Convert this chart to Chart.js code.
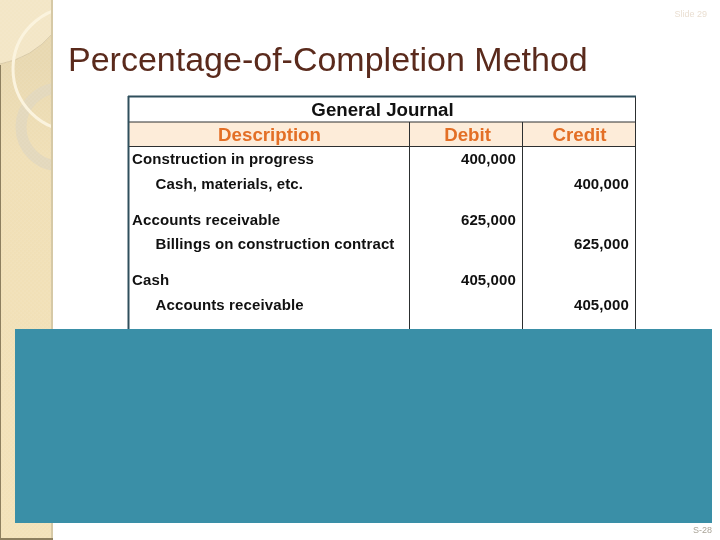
<!DOCTYPE html>
<html><head><meta charset="utf-8">
<style>html,body{margin:0;padding:0;background:#fff}#w{width:720px;height:540px;position:relative}</style>
<script src="https://cdn.jsdelivr.net/npm/chart.js@4/dist/chart.umd.js"></script>
</head><body><div id="w"><canvas id="c" width="720" height="540"></canvas></div>
<script>
const slideTitle = "Percentage-of-Completion Method";
const slideTag = "Slide 29";
const pageTag = "S-28";
const tableTitle = "General Journal";
const columnHeads = ["Description", "Debit", "Credit"];
const descriptions = ["Construction in progress", "Cash, materials, etc.", "Accounts receivable", "Billings on construction contract", "Cash", "Accounts receivable"];
const indented = [false, true, false, true, false, true];
const debitValues = [400000, null, 625000, null, 405000, null];
const creditValues = [null, 400000, null, 625000, null, 405000];

// layout of the journal rows: two lines per entry, entries separated by a gap
const rowY = i => 160 + Math.floor(i / 2) * 60.4 + (i % 2) * 24.8;
const fmt = v => v.toLocaleString("en-US");
const toPoints = (vals, x) => vals.map((v, i) => v === null ? null : { x, y: rowY(i), v }).filter(Boolean);

function checker(c) {
  const p = document.createElement("canvas"); p.width = p.height = 4;
  const q = p.getContext("2d");
  q.fillStyle = "rgba(255,255,255,0.06)"; q.fillRect(0, 0, 2, 2); q.fillRect(2, 2, 2, 2);
  return c.createPattern(p, "repeat");
}

const sheet = {
  id: "sheet",
  beforeDraw(chart) {
    const c = chart.ctx, X = chart.scales.x, Y = chart.scales.y;
    const px = v => X.getPixelForValue(v), py = v => Y.getPixelForValue(v);
    c.save();
    c.fillStyle = "#fff"; c.fillRect(px(0), py(0), 720, 540);
    // sidebar
    c.save();
    c.beginPath(); c.rect(0, 0, 53, 540); c.clip();
    const g = c.createLinearGradient(0, 60, 0, 540);
    g.addColorStop(0, "#e8d8b0"); g.addColorStop(0.2, "#f0dfb6"); g.addColorStop(1, "#f3e2b9");
    c.fillStyle = g; c.fillRect(0, 0, 53, 540);
    // upper lighter zone, bounded by a thin arc
    c.beginPath(); c.moveTo(0, 0); c.lineTo(53, 0); c.lineTo(53, 33);
    c.quadraticCurveTo(32, 58, 0, 64); c.closePath();
    c.fillStyle = "#f3e6c6"; c.fill();
    c.beginPath(); c.moveTo(53, 33); c.quadraticCurveTo(32, 58, 0, 64);
    c.strokeStyle = "#c9bb98"; c.lineWidth = 0.6; c.stroke();
    // ring
    c.beginPath(); c.arc(60, 127, 39, 0, Math.PI * 2);
    c.strokeStyle = "#e3d8bc"; c.lineWidth = 11; c.stroke();
    // pale circle
    c.beginPath(); c.arc(75, 69, 62, 0, Math.PI * 2);
    c.strokeStyle = "#fbf3dd"; c.lineWidth = 3; c.stroke();
    c.fillStyle = checker(c); c.fillRect(0, 0, 53, 540);
    // edges
    c.fillStyle = "#d6c9a6"; c.fillRect(51, 0, 2, 540);
    c.fillStyle = "#8d7f5f"; c.fillRect(0, 65, 1, 475); c.fillRect(0, 538, 53, 2);
    c.restore();
    // journal table
    c.fillStyle = "#fdecd9"; c.fillRect(px(129), py(122), 506, 24);
    c.strokeStyle = "#2c2f30"; c.lineWidth = 1;
    const h = (x0, x1, y) => { c.beginPath(); c.moveTo(x0, y); c.lineTo(x1, y); c.stroke(); };
    const v = (x, y0, y1) => { c.beginPath(); c.moveTo(x, y0); c.lineTo(x, y1); c.stroke(); };
    h(129, 636, 122); h(129, 636, 146.5);
    v(409.5, 122, 329); v(522.5, 122, 329); v(635.5, 96, 329);
    c.strokeStyle = "#2f4f5c"; c.lineWidth = 2;
    h(128, 636, 96.5); v(128.5, 96, 329);
    c.restore();
  },
  afterDatasetsDraw(chart) {
    const c = chart.ctx;
    c.save();
    // title and tags
    c.textBaseline = "alphabetic";
    c.textAlign = "left"; c.fillStyle = "#5a2a1c"; c.font = "34px 'Liberation Sans'";
    c.fillText(slideTitle, 68, 71);
    c.textBaseline = "middle";
    c.textAlign = "right"; c.fillStyle = "#eadfd2"; c.font = "9px 'Liberation Sans'";
    c.fillText(slideTag, 707, 15);
    // table heads
    c.textAlign = "center"; c.fillStyle = "#111"; c.font = "bold 18.7px 'Liberation Sans'";
    c.fillText(tableTitle, 382.5, 111);
    c.fillStyle = "#e36f26";
    c.fillText(columnHeads[0], 269.5, 135.5);
    c.fillText(columnHeads[1], 467.5, 135.5);
    c.fillText(columnHeads[2], 579.5, 135.5);
    // rows
    c.textAlign = "left"; c.fillStyle = "#111"; c.font = "bold 15px 'Liberation Sans'";
    c.letterSpacing = "0.12px";
    descriptions.forEach((d, i) => c.fillText(d, indented[i] ? 155.5 : 132, chart.scales.y.getPixelForValue(rowY(i))));
    c.textAlign = "right";
    chart.data.datasets.forEach((ds, k) => {
      chart.getDatasetMeta(k).data.forEach((el, j) => c.fillText(fmt(ds.data[j].v), el.x, el.y));
    });
    c.letterSpacing = "0px";
    // covering panel
    c.fillStyle = "#3a8fa7"; c.fillRect(15, 329, 697, 194);
    c.textAlign = "right"; c.fillStyle = "#a9a498"; c.font = "9px 'Liberation Sans'";
    c.fillText(pageTag, 712, 531);
    c.restore();
  }
};

new Chart(document.getElementById("c"), {
  type: "scatter",
  data: { datasets: [
    { label: columnHeads[1], data: toPoints(debitValues, 516), pointRadius: 0 },
    { label: columnHeads[2], data: toPoints(creditValues, 629), pointRadius: 0 }
  ]},
  options: {
    responsive: false, animation: false, devicePixelRatio: 1,
    layout: { padding: 0 },
    parsing: { xAxisKey: "x", yAxisKey: "y" },
    plugins: { legend: { display: false }, tooltip: { enabled: false }, title: { display: false } },
    scales: {
      x: { type: "linear", min: 0, max: 720, display: false },
      y: { type: "linear", min: 0, max: 540, reverse: true, display: false }
    }
  },
  plugins: [sheet]
});
</script></body></html>
